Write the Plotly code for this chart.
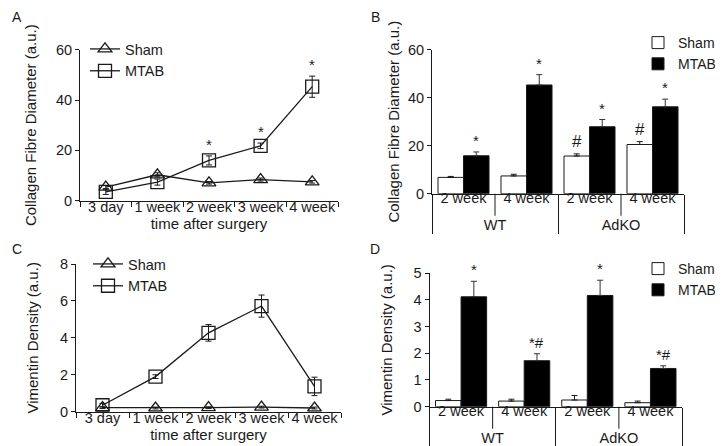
import plotly.graph_objects as go

# ---------------- data ----------------
time_labels = ["3 day", "1 week", "2 week", "3 week", "4 week"]

# Panel A: collagen fibre diameter over time
A_sham = [5.4, 10.3, 7.1, 8.4, 7.5]
A_sham_err = [0.6, 0.8, 0.5, 0.6, 0.5]
A_mtab = [3.5, 7.4, 16.0, 21.8, 45.3]
A_mtab_err = [1.0, 1.2, 1.8, 1.1, 4.2]
A_mtab_sig = ["", "", "*", "*", "*"]

# Panel B: collagen fibre diameter by genotype
genotypes = ["WT", "WT", "AdKO", "AdKO"]
weeks = ["2 week", "4 week", "2 week", "4 week"]
B_sham = [6.8, 7.4, 15.7, 20.5]
B_sham_err = [0.4, 0.7, 0.9, 1.2]
B_mtab = [15.8, 45.3, 27.9, 36.2]
B_mtab_err = [1.6, 4.3, 3.0, 3.2]
B_sham_sig = ["", "", "#", "#"]
B_mtab_sig = ["*", "*", "*", "*"]

# Panel C: vimentin density over time
C_sham = [0.22, 0.2, 0.22, 0.25, 0.2]
C_sham_err = [0.05, 0.05, 0.05, 0.05, 0.05]
C_mtab = [0.35, 1.9, 4.27, 5.72, 1.37]
C_mtab_err = [0.1, 0.1, 0.45, 0.6, 0.5]

# Panel D: vimentin density by genotype
D_sham = [0.23, 0.21, 0.25, 0.15]
D_sham_err = [0.05, 0.07, 0.17, 0.06]
D_mtab = [4.11, 1.72, 4.16, 1.43]
D_mtab_err = [0.58, 0.26, 0.57, 0.1]
D_mtab_sig = ["*", "*#", "*", "*#"]

# ---------------- style ----------------
FONT = "Liberation Sans, Arial, sans-serif"
INK = "#1a1a1a"
FS = 15
TFS = 14.5
W, H = 723, 446
BAR_GAP = 0.19
HALF = (1 - BAR_GAP) / 4  # offset of each bar centre from category centre

fig = go.Figure()


def line_traces(yS, eS, yM, eM, xa, ya, leg):
    fig.add_trace(go.Scatter(
        x=time_labels, y=yS, name="Sham", mode="lines+markers",
        line=dict(color=INK, width=1.3),
        marker=dict(symbol="triangle-up-open", size=12, color=INK, line=dict(width=1.3)),
        error_y=dict(type="data", array=eS, color=INK, thickness=1, width=3),
        xaxis=xa, yaxis=ya, legend=leg))
    fig.add_trace(go.Scatter(
        x=time_labels, y=yM, name="MTAB", mode="lines+markers",
        line=dict(color=INK, width=1.3),
        marker=dict(symbol="square-open", size=13, color=INK, line=dict(width=1.3)),
        error_y=dict(type="data", array=eM, color=INK, thickness=1, width=3),
        xaxis=xa, yaxis=ya, legend=leg))


def bar_traces(yS, eS, yM, eM, xa, ya, leg):
    fig.add_trace(go.Bar(
        x=[genotypes, weeks], y=yS, name="Sham",
        marker=dict(color="white", line=dict(color=INK, width=1)),
        error_y=dict(type="data", array=eS, arrayminus=[0] * len(eS), color=INK, thickness=1, width=3),
        xaxis=xa, yaxis=ya, legend=leg))
    fig.add_trace(go.Bar(
        x=[genotypes, weeks], y=yM, name="MTAB",
        marker=dict(color="black", line=dict(color=INK, width=1)),
        error_y=dict(type="data", array=eM, arrayminus=[0] * len(eM), color="#333", thickness=1, width=3),
        xaxis=xa, yaxis=ya, legend=leg))


line_traces(A_sham, A_sham_err, A_mtab, A_mtab_err, "x", "y", "legend")
bar_traces(B_sham, B_sham_err, B_mtab, B_mtab_err, "x2", "y2", "legend2")
line_traces(C_sham, C_sham_err, C_mtab, C_mtab_err, "x3", "y3", "legend3")
bar_traces(D_sham, D_sham_err, D_mtab, D_mtab_err, "x4", "y4", "legend4")

annotations = []


def sig(xref, yref, xs, tops, marks, size=15, shift=1):
    for x, t, m in zip(xs, tops, marks):
        if m:
            annotations.append(dict(x=x, y=t, xref=xref, yref=yref, text=m, showarrow=False,
                                    yanchor="bottom", yshift=shift,
                                    font=dict(family=FONT, size=size, color=INK)))


sig("x", "y", list(range(5)), [v + e for v, e in zip(A_mtab, A_mtab_err)], A_mtab_sig)
sig("x2", "y2", [i - HALF for i in range(4)], [v + e for v, e in zip(B_sham, B_sham_err)], B_sham_sig, 17)
sig("x2", "y2", [i + HALF for i in range(4)], [v + e for v, e in zip(B_mtab, B_mtab_err)], B_mtab_sig)
sig("x4", "y4", [i + HALF for i in range(4)], [v + e for v, e in zip(D_mtab, D_mtab_err)], D_mtab_sig)

for lbl, px, py in [("A", 9, 9), ("B", 367, 9), ("C", 9, 241), ("D", 367, 241)]:
    annotations.append(dict(x=px / W, y=1 - py / H, xref="paper", yref="paper", text=lbl,
                            showarrow=False, xanchor="center", yanchor="middle",
                            font=dict(family=FONT, size=14, color=INK)))

# separators between inner categories within one genotype (Excel-style multi-level axis)
shapes = []
for xr, yr, plot_h in [("x2", "y2 domain", 185.7 - 41.7), ("x4", "y4 domain", 398.7 - 265)]:
    for i in range(len(genotypes) - 1):
        if genotypes[i] == genotypes[i + 1]:
            shapes.append(dict(type="line", xref=xr, yref=yr, x0=i + 0.5, x1=i + 0.5,
                               y0=0, y1=-22 / plot_h, line=dict(color=INK, width=1)))

axis_common = dict(showline=True, linecolor=INK, linewidth=1, showgrid=False, zeroline=False,
                   ticks="outside", tickcolor=INK, tickwidth=1, automargin=False,
                   tickfont=dict(family=FONT, size=TFS, color=INK),
                   title_font=dict(family=FONT, size=FS, color=INK))


def cat_x(domain, anchor, title):
    return dict(axis_common, domain=domain, anchor=anchor, type="category", tickson="boundaries",
                ticklen=5, tickangle=0, ticklabelstandoff=-7, range=[-0.5, 4.5],
                title=dict(text=title, standoff=1))


def multi_x(domain, anchor):
    return dict(axis_common, domain=domain, anchor=anchor, type="multicategory", ticks="",
                tickangle=0, ticklabelstandoff=-9,
                showdividers=True, dividercolor=INK, dividerwidth=1)


def yax(domain, anchor, rng, tv, title, standoff):
    return dict(axis_common, domain=domain, anchor=anchor, range=rng, tickvals=tv, ticklen=4,
                title=dict(text=title, standoff=standoff))


leg_common = dict(bgcolor="rgba(0,0,0,0)", borderwidth=0, font=dict(family=FONT, size=14.5, color=INK),
                  xanchor="left", yanchor="top", tracegroupgap=0, itemwidth=30)
bar_leg = dict(leg_common, font=dict(family=FONT, size=14, color=INK))

fig.update_layout(
    width=W, height=H, margin=dict(l=0, r=0, t=0, b=0, autoexpand=False),
    paper_bgcolor="white", plot_bgcolor="white",
    font=dict(family=FONT, size=FS, color=INK),
    barmode="group", bargap=BAR_GAP, bargroupgap=0,
    xaxis=cat_x([72 / W, 330 / W], "y", "time after surgery"),
    yaxis=yax([1 - 192.7 / H, 1 - 41.7 / H], "x", [0, 60], [0, 20, 40, 60],
              "Collagen Fibre Diameter (a.u.)", 15),
    xaxis2=multi_x([424 / W, 676 / W], "y2"),
    yaxis2=yax([1 - 185.7 / H, 1 - 41.7 / H], "x2", [0, 60], [0, 20, 40, 60],
               "Collagen Fibre Diameter (a.u.)", 4),
    xaxis3=cat_x([68 / W, 333 / W], "y3", "time after surgery"),
    yaxis3=yax([1 - 403.7 / H, 1 - 256 / H], "x3", [0, 8], [0, 2, 4, 6, 8],
               "Vimentin Density (a.u.)", 17),
    xaxis4=multi_x([421.5 / W, 674 / W], "y4"),
    yaxis4=yax([1 - 398.7 / H, 1 - 265 / H], "x4", [0, 5], [0, 1, 2, 3, 4, 5],
               "Vimentin Density (a.u.)", 17),
    legend=dict(leg_common, x=77 / W, y=1 - 25 / H),
    legend2=dict(bar_leg, x=630 / W, y=1 - 19 / H),
    legend3=dict(leg_common, x=80 / W, y=1 - 240 / H),
    legend4=dict(bar_leg, x=630 / W, y=1 - 245 / H),
    annotations=annotations,
    shapes=shapes,
)

fig.write_html("out.html")
